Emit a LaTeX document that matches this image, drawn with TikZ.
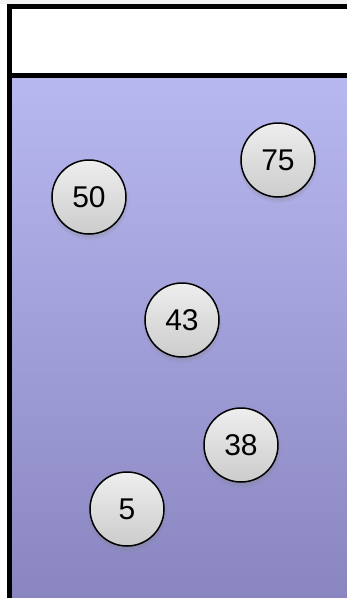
\documentclass[tikz,border=0pt]{standalone}
\usepackage{fontspec}
\setmainfont{Liberation Sans}
\usetikzlibrary{shadows}
\definecolor{laneTop}{RGB}{184,184,240}
\definecolor{laneBottom}{RGB}{137,133,192}
\definecolor{ballTop}{RGB}{238,238,238}
\definecolor{ballBottom}{RGB}{204,204,204}

\begin{document}
\begin{tikzpicture}[x=1pt,y=-1pt,
    every node/.style={font=\fontsize{30}{36}\selectfont},
    ball/.style={circle,draw=black,line width=1.5pt,minimum size=74pt,inner sep=0pt,
      top color=ballTop,bottom color=ballBottom,
      circular drop shadow={shadow xshift=0pt,shadow yshift=-3pt,shadow scale=1.08,opacity=0.35}}]
  \useasboundingbox (0,0) rectangle (347,598);
  \clip (0,0) rectangle (347,598);
  \fill[gray!10] (0,0) rectangle (347,4);
  % pool
  \fill[white] (9,6.5) rectangle (360,75.5);
  \shade[top color=laneTop,bottom color=laneBottom] (9,75.5) rectangle (360,600);
  \draw[line width=5pt] (9,620) |- (360,6.5);
  \draw[line width=5pt] (9,75.5) -- (360,75.5);
  % values
  \node[ball] (n75) at (278,160) {75};
  \node[ball] (n50) at (89,197) {50};
  \node[ball] (n43) at (182,320) {43};
  \node[ball] (n38) at (241,445) {38};
  \node[ball] (n5) at (127,509) {5};
\end{tikzpicture}
\end{document}
